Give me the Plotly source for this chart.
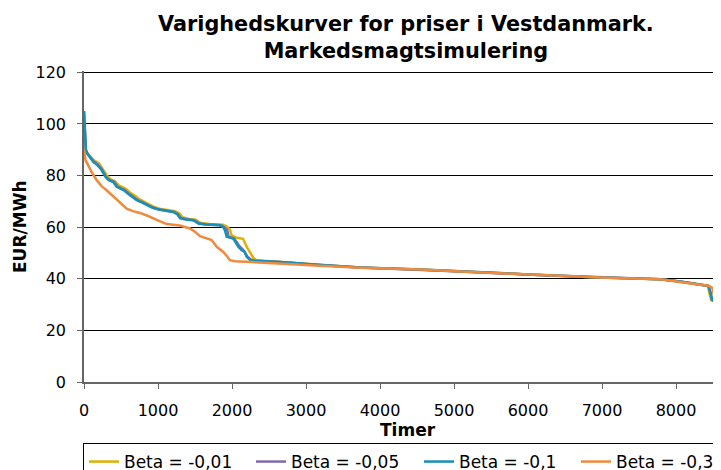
import plotly.graph_objects as go

# ---- data ----
series_names = ["Beta = -0,01", "Beta = -0,05", "Beta = -0,1", "Beta = -0,3"]
series_colors = ["#DDB100", "#7F6AAF", "#1790B8", "#F08A3C"]

tail_x = [2649, 3189, 3730, 4541, 5081, 5982, 6973, 7784, 8054, 8300]
tail_y = [46.5, 45.3, 44.4, 43.6, 42.8, 41.7, 40.5, 39.8, 38.9, 37.8]

yellow_x = [0, 25, 50, 140, 200, 250, 310, 360, 420, 470, 520, 570, 630, 690, 740, 800, 870,
            950, 1040, 1130, 1230, 1290, 1330, 1420, 1510, 1580, 1700, 1880, 1930, 1973, 1995,
            2050, 2150, 2198, 2243, 2290, 2330] + tail_x + [8430, 8455, 8475, 8520, 8608]
yellow_y = [104, 89.5, 88.5, 85.8, 84.8, 82.8, 80.0, 78.5, 77.8, 76.2, 75.5, 74.8, 73.2, 72.2,
            71.0, 70.0, 69.0, 67.8, 67.0, 66.5, 66.2, 65.3, 63.8, 63.2, 62.9, 61.6, 61.2, 60.9,
            60.2, 59.0, 56.8, 56.0, 55.5, 52.4, 50.4, 48.0, 47.2] + tail_y + [37.3, 34.0, 31.8, 31.2, 30.4]

purple_x = [0, 25, 45, 130, 180, 235, 295, 340, 405, 450, 495, 550, 610, 670, 720, 790, 855,
            930, 1020, 1110, 1215, 1270, 1305, 1390, 1490, 1555, 1660, 1850, 1895, 1935, 1955,
            2030, 2100, 2150, 2210, 2260, 2300] + tail_x + [8440, 8465, 8485, 8525, 8608]
purple_y = [105, 90, 88.5, 85.4, 84.4, 82.6, 79.6, 78.3, 77.6, 75.8, 75.1, 74.4, 72.9, 71.6,
            70.6, 69.7, 68.6, 67.6, 66.8, 66.3, 65.9, 65.0, 63.6, 63.0, 62.7, 61.4, 61.0, 60.7,
            60.0, 58.8, 56.3, 55.6, 52.6, 51.2, 48.6, 47.3, 47.0] + tail_y + [37.2, 34.3, 31.8, 31.2, 30.4]

teal_x = [0, 25, 45, 126, 171, 230, 290, 330, 396, 441, 486, 540, 600, 660, 712, 780, 847,
          920, 1009, 1100, 1207, 1260, 1297, 1380, 1477, 1545, 1650, 1838, 1880, 1905, 1928,
          2018, 2050, 2085, 2131, 2170, 2198, 2240, 2288] + tail_x + [8440, 8470, 8490, 8527, 8608]
teal_y = [105, 90, 88.5, 85.3, 84.3, 82.5, 79.5, 78.3, 77.5, 75.6, 75.0, 74.3, 72.8, 71.5,
          70.5, 69.6, 68.5, 67.6, 66.8, 66.3, 65.9, 65.0, 63.5, 63.0, 62.7, 61.4, 61.0, 60.7,
          60.0, 58.8, 56.3, 55.6, 54.0, 52.4, 51.1, 50.5, 48.5, 47.4, 47.0] + tail_y + [37.2, 34.5, 31.8, 31.2, 30.4]

orange_x = [0, 20, 45, 100, 171, 240, 306, 380, 441, 510, 577, 660, 757, 850, 937, 1030, 1117,
            1200, 1297, 1432, 1500, 1568, 1650, 1725, 1793, 1840, 1883, 1930, 1973, 2041,
            2649, 3189, 3730, 4541, 5081, 5982, 6973, 7784, 8054, 8300,
            8440, 8490, 8510, 8530, 8560, 8608]
orange_y = [90, 86, 84.6, 81.5, 78.2, 75.8, 74.3, 72.3, 70.5, 68.8, 67.2, 66.2, 65.5, 64.5, 63.3,
            62.2, 61.2, 60.8, 60.6, 59.5, 58.2, 56.5, 55.7, 55.0, 52.4, 51.3, 50.4, 48.8, 47.2,
            46.8, 45.7, 45.0, 44.3, 43.6, 42.8, 41.7, 40.5, 39.8, 38.9, 37.8,
            37.3, 36.5, 34.0, 31.5, 31.0, 30.4]

series_x = [yellow_x, purple_x, teal_x, orange_x]
series_y = [yellow_y, purple_y, teal_y, orange_y]
legend_widths = [122, 123, 112, 112]

x_ticks = [0, 1000, 2000, 3000, 4000, 5000, 6000, 7000, 8000]
y_ticks = [0, 20, 40, 60, 80, 100, 120]

title_text = "Varighedskurver for priser i Vestdanmark.<br>Markedsmagtsimulering"
x_title = "Timer"
y_title = "EUR/MWh"

FONT = "Verdana, DejaVu Sans, sans-serif"

# page body has an 8px margin: the figure is sized/placed so that the plot area
# sits at page x 84..721, y 71..382
PLOT_W = 637
PLOT_H = 311

fig = go.Figure()
for name, color, xs, ys, lw in zip(series_names, series_colors, series_x, series_y, legend_widths):
    fig.add_trace(go.Scatter(x=xs, y=ys, name=name, mode="lines",
                             line=dict(color=color, width=2.5),
                             legendwidth=lw))

fig.update_layout(
    width=713, height=462,
    margin=dict(l=76, r=0, t=63, b=88, autoexpand=False),
    paper_bgcolor="white", plot_bgcolor="white",
    font=dict(family=FONT, size=16, color="black"),
    showlegend=True,
    legend=dict(orientation="h", x=-0.0016, xanchor="left", y=-(443 - 382) / PLOT_H, yanchor="top",
                bordercolor="black", borderwidth=1, font=dict(size=17),
                itemwidth=30, tracegroupgap=0),
    xaxis=dict(range=[0, PLOT_W / 0.074], tickvals=x_ticks, showgrid=False, zeroline=False,
               showline=True, linecolor="#666666", linewidth=1.5,
               ticks="outside", ticklen=5, tickcolor="#666666",
               tickfont=dict(size=16), ticklabelstandoff=8),
    yaxis=dict(range=[0, 120.5], tickvals=y_ticks, showgrid=True, gridcolor="black", gridwidth=1,
               zeroline=False, showline=True, linecolor="#666666", linewidth=1.5,
               ticks="outside", ticklen=5, tickcolor="#666666",
               tickfont=dict(size=16), ticklabelstandoff=8),
    annotations=[
        dict(text="<b>" + title_text.replace("<br>", "</b><br><b>") + "</b>", xref="paper", yref="paper",
             x=(406 - 84) / PLOT_W, y=(382 - 37.5) / PLOT_H, xanchor="center", yanchor="middle",
             showarrow=False, font=dict(size=20.8, family=FONT)),
        dict(text="<b>" + x_title + "</b>", xref="paper", yref="paper",
             x=(408 - 84) / PLOT_W, y=-(430 - 382) / PLOT_H, xanchor="center", yanchor="middle",
             showarrow=False, font=dict(size=17, family=FONT)),
        dict(text="<b>" + y_title + "</b>", xref="paper", yref="paper", textangle=-90,
             x=(20 - 84) / PLOT_W, y=(382 - 227) / PLOT_H, xanchor="center", yanchor="middle",
             showarrow=False, font=dict(size=17, family=FONT)),
    ],
)

fig.write_html("out.html")
